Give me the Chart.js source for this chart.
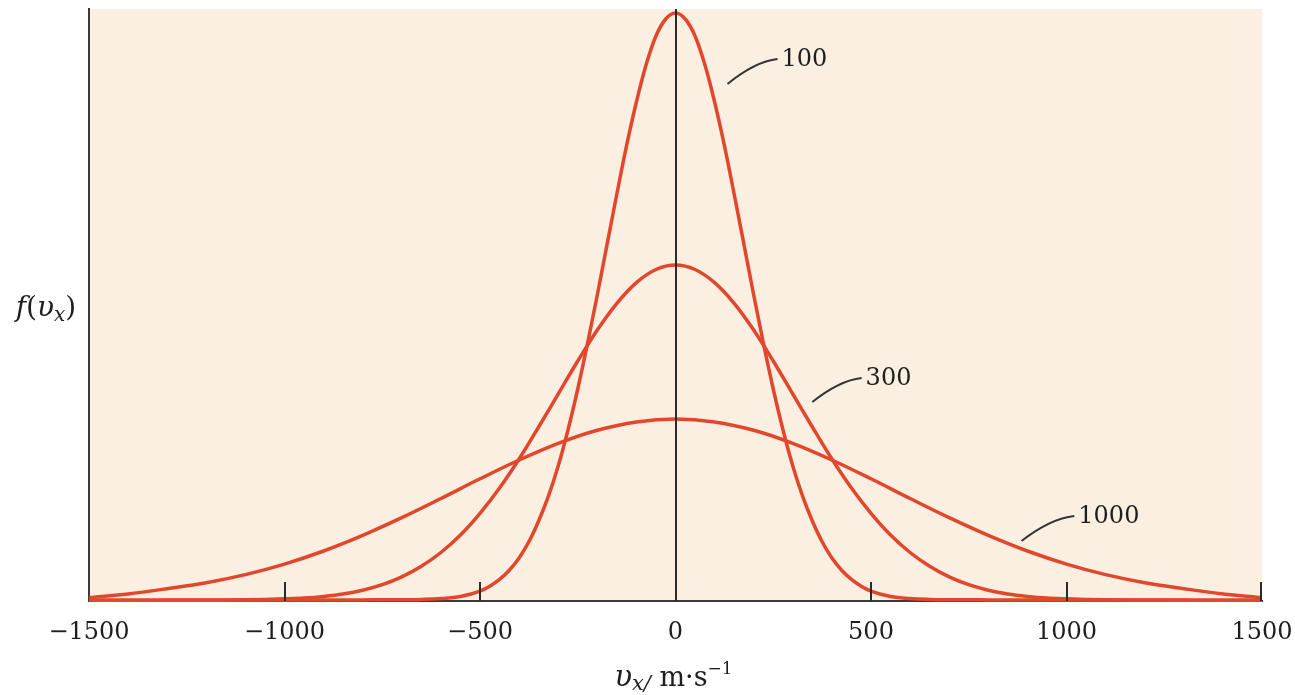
<!DOCTYPE html>
<html><head><meta charset="utf-8">
<script src="https://cdn.jsdelivr.net/npm/chart.js@4.4.1/dist/chart.umd.min.js"></script>
<style>html,body{margin:0;padding:0;background:#fff;}</style>
</head><body>
<canvas id="c" width="1295" height="695"></canvas>
<script>
// Temperatures (K) labelling each curve
const temperatures = ['100', '300', '1000'];

// T = 100 curve: velocity (m/s) and f(vx) (arbitrary units)
const vx100 = [-1500,-1300,-1100,-900,-800,-700,-650,-600,-550,-500,-475,-450,-425,-400,-375,-350,-325,-300,-275,-250,-225,-200,-175,-150,-125,-100,-75,-50,-25,0,
  25,50,75,100,125,150,175,200,225,250,275,300,325,350,375,400,425,450,475,500,550,600,650,700,800,900,1100,1300,1500];
const f100 = [0.8,0.8,0.9,1.0,1.1,1.3,1.6,2.4,4.5,9.9,14.8,21.6,30.8,43,59.2,80,104.8,135,171,212,257.3,306,356.6,407,455.6,499,536.4,565,582,588,
  582,565,536.4,499,455.6,407,356.6,306,257.3,212,171,135,104.8,80,59.2,43,30.8,21.6,14.8,9.9,4.5,2.4,1.6,1.3,1.1,1.0,0.9,0.8,0.8];

// T = 300 curve
const vx300 = [-1500,-1450,-1400,-1350,-1300,-1250,-1200,-1150,-1100,-1050,-1000,-950,-900,-850,-800,-750,-700,-650,-600,-550,-500,-450,-400,-350,-300,-250,-200,-150,-100,-50,0,
  50,100,150,200,250,300,350,400,450,500,550,600,650,700,750,800,850,900,950,1000,1050,1100,1150,1200,1250,1300,1350,1400,1450,1500];
const f300 = [0.8,0.8,0.8,0.8,0.9,0.9,1.0,1.1,1.3,1.6,2.2,3.0,4.6,7.0,10.8,16.3,24.1,34.7,48.5,66,87.7,113,142,174,207,240,271,297.7,318.4,331.5,336,
  331.5,318.4,297.7,271,240,207,174,142,113,87.7,66,48.5,34.7,24.1,16.3,10.8,7.0,4.6,3.0,2.2,1.6,1.3,1.1,1.0,0.9,0.9,0.8,0.8,0.8,0.8];

// T = 1000 curve
const vx1000 = [-1500,-1400,-1300,-1200,-1100,-1000,-900,-800,-700,-600,-500,-400,-300,-200,-100,0,
  100,200,300,400,500,600,700,800,900,1000,1100,1200,1300,1400,1500];
const f1000 = [3.5,7.0,12.3,18.3,26.4,36.9,50,65.6,83.3,102.5,122.2,141,157.7,170.8,179.1,182,
  179.1,170.8,157.7,141,122.2,102.5,83.3,65.6,50,36.9,26.4,18.3,12.3,7.0,3.5];

// x-axis tick values
const xTicks = [-1500, -1000, -500, 0, 500, 1000, 1500];

const curveColor = '#E1472C';
const inkColor = '#2b2b2b';
const serif = "'DejaVu Serif', serif";

function pts(xs, ys) { return xs.map((x, i) => ({ x: x, y: ys[i] })); }

// label annotation placement (data coordinates): leader start and leader end
const labelCfg = [
  { sx: 133, sy: 517, ex: 261, ey: 542 },
  { sx: 350, sy: 199, ex: 476, ey: 223 },
  { sx: 885, sy: 60, ex: 1020, ey: 85 }
];

const decor = {
  id: 'decor',
  beforeDraw(chart) {
    const { ctx, chartArea: a } = chart;
    ctx.save();
    ctx.fillStyle = '#ffffff';
    ctx.fillRect(0, 0, chart.width, chart.height);
    ctx.fillStyle = '#FBEFE1';
    ctx.fillRect(a.left, a.top, a.right - a.left, a.bottom - a.top);
    ctx.restore();
  },
  afterDatasetsDraw(chart) {
    const { ctx, chartArea: a, scales: { x, y } } = chart;
    ctx.save();
    ctx.strokeStyle = inkColor;
    ctx.lineWidth = 2;
    const x0 = Math.round(x.getPixelForValue(0));
    ctx.beginPath(); ctx.moveTo(x0, a.top); ctx.lineTo(x0, a.bottom); ctx.stroke();
    xTicks.forEach(v => {
      if (v === xTicks[0] || v === 0) return;
      let px = Math.round(x.getPixelForValue(v));
      if (v === xTicks[xTicks.length - 1]) px -= 1;
      ctx.beginPath(); ctx.moveTo(px, a.bottom); ctx.lineTo(px, a.bottom - 19); ctx.stroke();
    });
    ctx.font = '24px ' + serif;
    ctx.textBaseline = 'middle';
    ctx.textAlign = 'left';
    ctx.fillStyle = '#1e1e1e';
    labelCfg.forEach((c, i) => {
      const sx = x.getPixelForValue(c.sx), sy = y.getPixelForValue(c.sy);
      const ex = x.getPixelForValue(c.ex), ey = y.getPixelForValue(c.ey);
      ctx.strokeStyle = '#333';
      ctx.lineWidth = 2;
      ctx.beginPath();
      ctx.moveTo(sx, sy);
      ctx.quadraticCurveTo(sx + (ex - sx) * 0.55, ey + (sy - ey) * 0.1, ex, ey);
      ctx.stroke();
      ctx.fillText(temperatures[i], ex + 4, ey + 1);
    });
    ctx.textBaseline = 'alphabetic';
    const yParts = [
      { t: 'f', f: 'italic 28px ' + serif, dy: 0 },
      { t: '(', f: '28px ' + serif, dy: 0 },
      { t: 'υ', f: 'italic 28px ' + serif, dy: 0 },
      { t: 'x', f: 'italic 20px ' + serif, dy: 5 },
      { t: ')', f: '28px ' + serif, dy: 0 }
    ];
    drawParts(ctx, yParts, 46, 316);
    const xParts = [
      { t: 'υ', f: 'italic 29px ' + serif, dy: 0 },
      { t: 'x/', f: 'italic 21px ' + serif, dy: 4 },
      { t: ' m·s', f: '27px ' + serif, dy: 0 },
      { t: '\u22121', f: '17px ' + serif, dy: -12 }
    ];
    drawParts(ctx, xParts, (a.left + a.right) / 2 - 2, 686);
    ctx.restore();
  }
};

function drawParts(ctx, parts, cx, baseY) {
  let w = 0;
  parts.forEach(p => { ctx.font = p.f; p.w = ctx.measureText(p.t).width; w += p.w; });
  let px = cx - w / 2;
  ctx.textAlign = 'left';
  ctx.fillStyle = '#1e1e1e';
  parts.forEach(p => { ctx.font = p.f; ctx.fillText(p.t, px, baseY + p.dy); px += p.w; });
}

new Chart(document.getElementById('c'), {
  type: 'line',
  data: {
    datasets: [
      { label: temperatures[0], data: pts(vx100, f100) },
      { label: temperatures[1], data: pts(vx300, f300) },
      { label: temperatures[2], data: pts(vx1000, f1000) }
    ].map(d => Object.assign(d, {
      borderColor: curveColor, borderWidth: 3.5, pointRadius: 0, fill: false,
      cubicInterpolationMode: 'monotone', clip: false
    }))
  },
  options: {
    responsive: false,
    animation: false,
    layout: { padding: { top: 9, right: 33, left: 0, bottom: 0 } },
    plugins: { legend: { display: false }, tooltip: { enabled: false } },
    scales: {
      x: {
        type: 'linear', min: -1500, max: 1500,
        afterBuildTicks(s) { s.ticks = xTicks.map(v => ({ value: v })); },
        ticks: {
          callback: v => (v < 0 ? '\u2212' + Math.abs(v) : String(v)),
          font: { family: serif, size: 24 }, color: '#1e1e1e', padding: 17,
          maxRotation: 0, autoSkip: false
        },
        grid: { display: true, drawOnChartArea: false, drawTicks: false },
        border: { display: true, color: '#3a3a3a', width: 2 },
        afterFit(s) { s.height = 94; s.paddingLeft = 0; s.paddingRight = 0; }
      },
      y: {
        min: 0, max: 592,
        ticks: { display: false },
        grid: { display: false, drawTicks: false },
        border: { display: true, color: '#3a3a3a', width: 2 },
        afterFit(s) { s.width = 89; s.paddingTop = 0; s.paddingBottom = 0; }
      }
    }
  },
  plugins: [decor]
});
</script>
</body></html>
